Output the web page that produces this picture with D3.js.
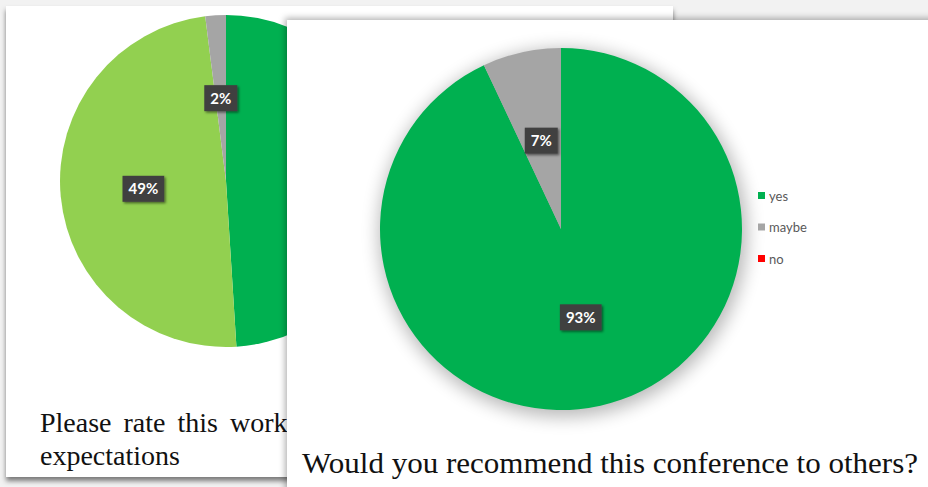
<!DOCTYPE html>
<html>
<head>
<meta charset="utf-8">
<script src="https://cdn.jsdelivr.net/npm/d3@7"></script>
<style>
  html, body { margin: 0; padding: 0; background: #f2f2f2; }
  svg { display: block; }
</style>
</head>
<body>
<svg id="chart" width="928" height="487"></svg>
<script>
// ---- data ----
const backCategories = ["excellent", "good", "fair"];
const backValues = [49, 49, 2];
const backColors = ["#00b050", "#92d050", "#a5a5a5"];
const backTitleLines = ["Please rate this workshop against your", "expectations"];

const frontCategories = ["yes", "maybe", "no"];
const frontValues = [93, 7, 0];
const frontColors = ["#00b050", "#a5a5a5", "#ff0000"];
const frontTitle = "Would you recommend this conference to others?";

const svg = d3.select("#chart");
const defs = svg.append("defs");

// filters
const f1 = defs.append("filter").attr("id", "panelShadow").attr("x", "-5%").attr("y", "-5%").attr("width", "110%").attr("height", "110%");
f1.append("feDropShadow").attr("dx", -2).attr("dy", -2).attr("stdDeviation", 3).attr("flood-color", "#000").attr("flood-opacity", 0.3);
const f0 = defs.append("filter").attr("id", "backShadow").attr("x", "-5%").attr("y", "-5%").attr("width", "110%").attr("height", "110%");
f0.append("feDropShadow").attr("dx", 0).attr("dy", 4).attr("stdDeviation", 2.5).attr("flood-color", "#000").attr("flood-opacity", 0.5);
const f2 = defs.append("filter").attr("id", "pieShadow").attr("x", "-20%").attr("y", "-20%").attr("width", "140%").attr("height", "140%");
f2.append("feGaussianBlur").attr("stdDeviation", 9);
const f3 = defs.append("filter").attr("id", "lblShadow").attr("x", "-30%").attr("y", "-30%").attr("width", "160%").attr("height", "160%");
f3.append("feDropShadow").attr("dx", 1.5).attr("dy", 1.5).attr("stdDeviation", 1.2).attr("flood-color", "#000").attr("flood-opacity", 0.5);

// background
svg.append("rect").attr("width", 928).attr("height", 487).attr("fill", "#f2f2f2");

// ---- back panel ----
svg.append("rect").attr("x", 6).attr("y", 6).attr("width", 667).attr("height", 471)
  .attr("fill", "#ffffff").attr("filter", "url(#backShadow)");

const pie = d3.pie().sort(null).value(d => d);

function drawPie(g, values, colors, r) {
  const arcs = pie(values);
  const arc = d3.arc().innerRadius(0).outerRadius(r);
  g.selectAll("path.slice").data(arcs).join("path")
    .attr("class", "slice")
    .attr("d", arc)
    .attr("fill", (d, i) => colors[i]);
  const labels = g.selectAll("g.lbl").data(arcs.filter(d => d.data > 0)).join("g")
    .attr("class", "lbl")
    .attr("transform", d => `translate(${arc.centroid(d)})`);
  labels.each(function(d) {
    const s = d3.select(this);
    const t = s.append("text")
      .attr("text-anchor", "middle").attr("dy", "0.36em")
      .attr("font-family", "Lato, 'Open Sans', sans-serif")
      .attr("font-weight", "bold").attr("font-size", 15)
      .attr("fill", "#ffffff")
      .text(d.data + "%");
    const w = t.node().getComputedTextLength();
    s.insert("rect", "text")
      .attr("x", -w / 2 - 6).attr("y", -13).attr("width", w + 12).attr("height", 26)
      .attr("fill", "#404040").attr("filter", "url(#lblShadow)");
  });
}

const backG = svg.append("g").attr("transform", "translate(226,181)");
drawPie(backG, backValues, backColors, 166);

const backTitle = svg.append("text")
  .attr("font-family", "'Liberation Serif', 'Times New Roman', serif")
  .attr("font-size", 28).attr("fill", "#111");
backTitle.selectAll("tspan").data(backTitleLines).join("tspan")
  .attr("x", 40).attr("y", (d, i) => 432 + i * 33)
  .attr("word-spacing", (d, i) => i === 0 ? 5 : 0)
  .text(d => d);

// ---- front panel ----
svg.append("rect").attr("x", 287).attr("y", 20).attr("width", 660).attr("height", 490)
  .attr("fill", "#ffffff").attr("filter", "url(#panelShadow)");

const fcx = 561, fcy = 229, fr = 181;
svg.append("circle").attr("cx", fcx + 2).attr("cy", fcy + 4).attr("r", fr + 3)
  .attr("fill", "#000").attr("opacity", 0.28).attr("filter", "url(#pieShadow)");
const frontG = svg.append("g").attr("transform", `translate(${fcx},${fcy})`);
drawPie(frontG, frontValues, frontColors, fr);

// legend
const legend = svg.append("g").attr("transform", "translate(758,196)");
const li = legend.selectAll("g").data(frontCategories).join("g")
  .attr("transform", (d, i) => `translate(0,${i * 31.5})`);
li.append("rect").attr("x", 0).attr("y", -4).attr("width", 7).attr("height", 7)
  .attr("fill", (d, i) => frontColors[i]);
li.append("text").attr("x", 11).attr("y", 0).attr("dy", "0.35em")
  .attr("font-family", "Lato, 'Open Sans', sans-serif").attr("font-size", 13)
  .attr("fill", "#595959").text(d => d);

svg.append("text")
  .attr("x", 302).attr("y", 473)
  .attr("font-family", "'Liberation Serif', 'Times New Roman', serif")
  .attr("font-size", 30).attr("fill", "#111")
  .attr("textLength", 616).attr("lengthAdjust", "spacingAndGlyphs")
  .text(frontTitle);
</script>
</body>
</html>
